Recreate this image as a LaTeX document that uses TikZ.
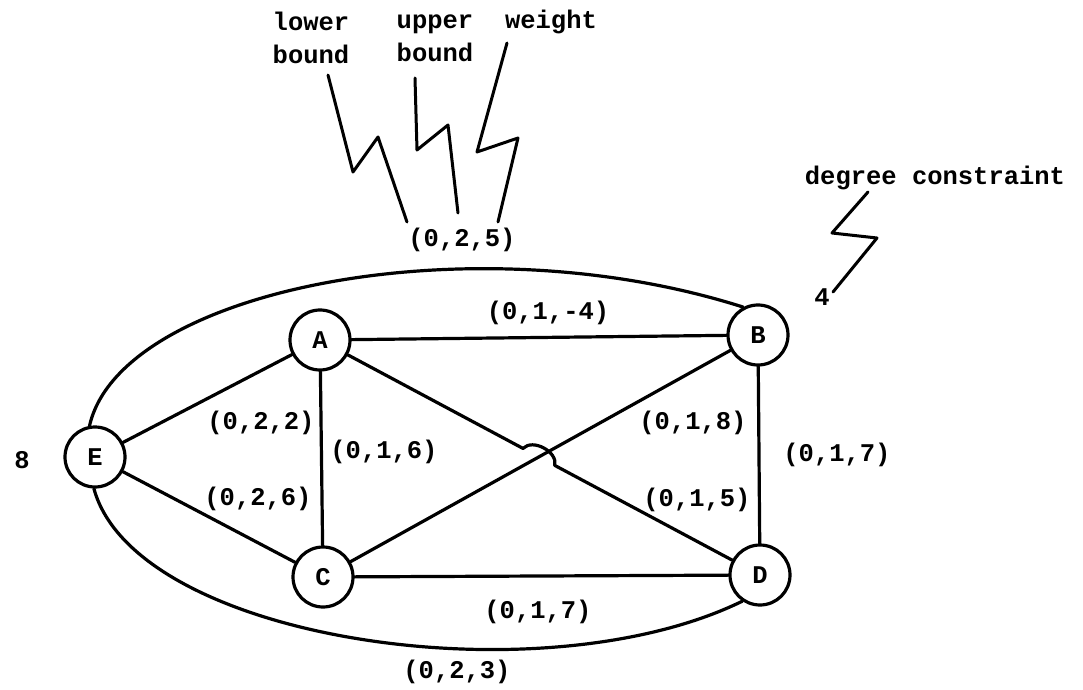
\documentclass[tikz,border=0pt]{standalone}
\usepackage{fontspec}
\setmonofont{Liberation Mono}
\usetikzlibrary{calc}

\begin{document}
\begin{tikzpicture}[x=0.5pt, y=-0.5pt,
  every node/.style={inner sep=0pt, align=left,
    font=\fontsize{12.75}{16.5}\selectfont\ttfamily\bfseries},
  vertex/.style={draw, circle, minimum size=30pt, line width=1.6pt},
  zig/.style={line width=1.5pt},
  line width=1.6pt, line join=round, line cap=round]
  \useasboundingbox (0,0) rectangle (1083,690);
  \node[vertex] (a) at (320,340) {A};
  \node[vertex] (b) at (758,335) {B};
  \node[vertex] (c) at (323,577) {C};
  \node[vertex] (d) at (760,575) {D};
  \node[vertex] (e) at (95,457) {E};
  \node (ke) at (22,460) {8};
  \node (kb) at (822,297) {4};
  \node (lo) at (311,38) {lower\\bound};
  \node (up) at (435,38) {upper\\bound};
  \node (wt) at (551,22) {weight};
  \node (deg) at (935,178) {degree constraint};
  \node (eb) at (462,240) {(0,2,5)};
  \node (ab) at (548,313) {(0,1,-4)};
  \node (ea) at (261,423) {(0,2,2)};
  \node (ac) at (384,452) {(0,1,6)};
  \node (ec) at (258,499) {(0,2,6)};
  \node (cb) at (693,423) {(0,1,8)};
  \node (bd) at (837,455) {(0,1,7)};
  \node (ad) at (697,500) {(0,1,5)};
  \node (cd) at (538,612) {(0,1,7)};
  \node (ed) at (457,672) {(0,2,3)};
  \draw (e) -- (a);
  \draw (e) -- (c);
  \draw (a) -- (c);
  \draw (a) -- (b);
  \draw (c) -- (d);
  \draw (b) -- (d);
  \draw (c) -- (b);
  \coordinate (x) at (intersection of a--d and c--b);
  \draw (a) -- ($(x)!9pt!(a)$) to[bend left=75] ($(x)!9pt!(d)$) -- (d);
  \draw (e.100) .. controls (120,290) and (470,220) .. (b.118);
  \draw (e.268) .. controls (135,640) and (540,700) .. (d.236);
  \draw[zig] (328,75) -- (353,172) -- (378,137) -- (407,222);
  \draw[zig] (415,78) -- (417,150) -- (448,125) -- (458,213);
  \draw[zig] (507,43) -- (477,152) -- (518,138) -- (498,222);
  \draw[zig] (868,192) -- (832,233) -- (877,238) -- (833,292);
\end{tikzpicture}
\end{document}
